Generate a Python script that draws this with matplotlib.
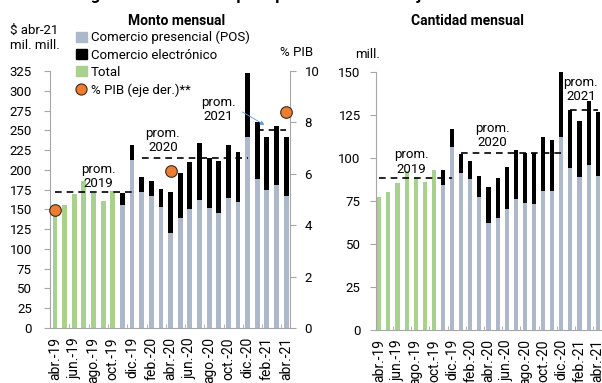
import matplotlib
matplotlib.use('Agg')
from matplotlib import pyplot as plt
from matplotlib.patches import Patch
from matplotlib.lines import Line2D
import numpy as np

plt.rcParams['font.family'] = ['Roboto', 'DejaVu Sans']
plt.rcParams['font.size'] = 9.5

months = ['abr.-19', 'may.-19', 'jun.-19', 'jul.-19', 'ago.-19', 'sep.-19', 'oct.-19',
          'nov.-19', 'dic.-19', 'ene.-20', 'feb.-20', 'mar.-20', 'abr.-20', 'may.-20',
          'jun.-20', 'jul.-20', 'ago.-20', 'sep.-20', 'oct.-20', 'nov.-20', 'dic.-20',
          'ene.-21', 'feb.-21', 'mar.-21', 'abr.-21']

# Monto mensual ($ abr-21 mil. mill.)
monto_total_2019 = [150, 155.5, 170, 186, 171, 160, 173]          # abr-19 .. oct-19
monto_pos = [155, 212, 172, 167, 153, 120, 139, 151, 162, 152, 146, 164.5,
             159.5, 241, 189, 175, 181, 166.5]                      # nov-19 .. abr-21
monto_elec = [16, 19, 19, 19, 22.5, 52, 57, 59, 71.5, 63, 65.5, 66.5,
              63.5, 81, 71, 67, 74.5, 74.5]
monto_prom = [171.5, 214.5, 250]
pib = [4.6, 6.1, 8.4]                                                # abr-19, abr-20, abr-21

# Cantidad mensual (mill.)
cant_total_2019 = [77.5, 80.4, 85.2, 92.3, 88.5, 86.1, 92.7]
cant_pos = [84.2, 106, 91.3, 87.9, 77, 62, 65, 70, 76, 74, 73, 81,
            80.5, 112, 94, 89, 96, 89.7]
cant_elec = [9, 11, 10.7, 10.5, 12.5, 21, 23, 24.5, 28.5, 29, 30, 31,
             30, 37.8, 34, 32.5, 37, 36.8]
cant_prom = [88, 103, 127.5]

GREEN = '#a9d18e'
POS = '#adb9ca'
ORANGE = '#ed7d31'
GREY = '#a6a6a6'

fig = plt.figure(figsize=(6.02, 3.83), dpi=100)
fig.text(0.5, 1.012, 'Pagos en el comercio por tipo de canal con tarjetas bancarias',
         ha='center', va='center', fontsize=12, fontweight='bold')

x = np.arange(len(months))
x_green = x[:7]
x_stack = x[7:]
prom_spans = [(0, 8), (9, 20), (21, 24)]


def px(xp, yp):
    return xp / 602, 1 - yp / 383


def style(ax, pad):
    for s in ['top', 'right']:
        ax.spines[s].set_visible(False)
    ax.spines['left'].set_color(GREY)
    ax.spines['bottom'].set_color(GREY)
    ax.tick_params(axis='y', colors=GREY, labelcolor='black', length=4, pad=pad)
    ax.set_xticks(x[::2])
    ax.set_xticklabels(months[::2], rotation=90, fontsize=10)
    ax.tick_params(axis='x', length=0, pad=6.5)
    ax.set_xticks(x[1::2] + 0.5, minor=True)
    ax.tick_params(axis='x', which='minor', direction='in', length=3, colors=GREY)


def draw(ax, green, pos, elec, prom, width):
    ax.bar(x_green, green, width=width, color=GREEN)
    ax.bar(x_stack, pos, width=width, color=POS)
    ax.bar(x_stack, elec, width=width, color='black', bottom=pos)
    for (a, b), v in zip(prom_spans, prom):
        ax.plot([a, b], [v, v], color='black', lw=1.2, ls=(0, (4, 3)), zorder=3)


def prom_label(ax, xv, yv, year):
    ax.text(xv, yv, 'prom.\n' + year, ha='center', va='center', fontsize=9.5,
            linespacing=1.15, zorder=6)


# Left panel
ax1 = fig.add_axes([50 / 602, 55 / 383, 240 / 602, 257 / 383])
draw(ax1, monto_total_2019, monto_pos, monto_elec, monto_prom, 0.5)
ax1.set_xlim(-0.52, 24.4)
ax1.set_ylim(0, 325)
ax1.set_yticks(np.arange(0, 326, 25))
style(ax1, 9)
ax1r = ax1.twinx()
ax1r.set_ylim(0, 10)
ax1r.set_yticks([0, 2, 4, 6, 8, 10])
for s in ['top', 'left', 'bottom']:
    ax1r.spines[s].set_visible(False)
ax1r.spines['right'].set_color(GREY)
ax1r.tick_params(axis='y', colors=GREY, labelcolor='black', length=4, pad=6.5)
ax1r.scatter([0, 12, 24], pib, s=70, color=ORANGE, edgecolor='#3a2a1a',
             linewidth=0.8, zorder=5, clip_on=False)

prom_label(ax1, 4.5, 191.5, '2019')
prom_label(ax1, 11.2, 237, '2020')
prom_label(ax1, 17, 276, '2021')
ax1.annotate('', xy=(22.0, 255), xytext=(19.2, 275),
             arrowprops=dict(arrowstyle='-|>', color='#5b9bd5', lw=0.6,
                             mutation_scale=6))

fig.text(*px(177, 21), 'Monto mensual', ha='center', va='center',
         fontsize=10, fontweight='bold')
fig.text(*px(10, 38), '$ abr-21\nmil. mill.', ha='left', va='center',
         fontsize=9.5, linespacing=1.15)
fig.text(*px(297, 53), '% PIB', ha='center', va='center', fontsize=9.5)

handles = [Patch(color=POS), Patch(color='black'), Patch(color=GREEN),
           Line2D([], [], marker='o', ls='none', markersize=8, markerfacecolor=ORANGE,
                  markeredgecolor='#3a2a1a', markeredgewidth=0.8)]
labels = ['Comercio presencial (POS)', 'Comercio electrónico', 'Total',
          '% PIB (eje der.)**']
fig.legend(handles, labels, loc='upper left', bbox_to_anchor=px(76, 31),
           frameon=False, handlelength=0.8, handleheight=0.8, handletextpad=0.3,
           labelspacing=0.32, borderpad=0, borderaxespad=0, fontsize=9.5)

# Right panel
ax2 = fig.add_axes([376 / 602, 53 / 383, 226 / 602, 258.3 / 383])
draw(ax2, cant_total_2019, cant_pos, cant_elec, cant_prom, 0.45)
ax2.set_xlim(-0.36, 24.47)
ax2.set_ylim(0, 150)
ax2.set_yticks(np.arange(0, 151, 25))
style(ax2, 7)
fig.text(*px(467, 21), 'Cantidad mensual', ha='center', va='center',
         fontsize=10, fontweight='bold')
fig.text(*px(368, 55), 'mill.', ha='center', va='center', fontsize=9.5)
prom_label(ax2, 3.56, 97.5, '2019')
prom_label(ax2, 12.46, 113, '2020')
prom_label(ax2, 22.15, 139.7, '2021')

plt.savefig('out.png', dpi=100)
